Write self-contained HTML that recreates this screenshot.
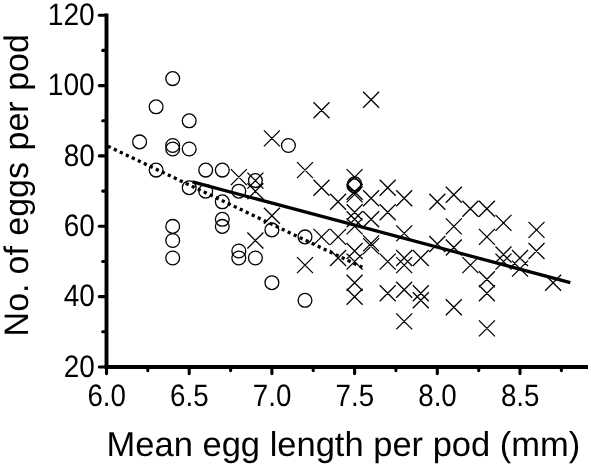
<!DOCTYPE html>
<html><head><meta charset="utf-8"><title>Eggs per pod vs egg length</title>
<style>html,body{margin:0;padding:0;background:#fff}svg{display:block;will-change:transform;opacity:.999}text{text-rendering:geometricPrecision;font-family:"Liberation Sans",Arial,sans-serif;fill:#000}</style></head><body>
<svg width="591" height="467" viewBox="0 0 591 467">
<rect width="591" height="467" fill="#fff"/>
<g stroke="#000" stroke-width="3.9" fill="none" stroke-linecap="butt">
<path d="M106.5 13.4 V367"/>
<path d="M104.55 367 H588"/>
</g>
<g stroke="#000" stroke-width="3.1" fill="none" stroke-linecap="round">
<path d="M99.3 367.0 H106"/>
<path d="M99.3 296.6 H106"/>
<path d="M99.3 226.3 H106"/>
<path d="M99.3 155.9 H106"/>
<path d="M99.3 85.6 H106"/>
<path d="M99.3 15.2 H106"/>
<path d="M102.7 331.8 H106"/>
<path d="M102.7 261.5 H106"/>
<path d="M102.7 191.1 H106"/>
<path d="M102.7 120.7 H106"/>
<path d="M102.7 50.4 H106"/>
<path d="M106.5 367 V373.6"/>
<path d="M189.2 367 V373.6"/>
<path d="M271.9 367 V373.6"/>
<path d="M354.6 367 V373.6"/>
<path d="M437.3 367 V373.6"/>
<path d="M520.0 367 V373.6"/>
<path d="M147.8 367 V370.6"/>
<path d="M230.6 367 V370.6"/>
<path d="M313.2 367 V370.6"/>
<path d="M395.9 367 V370.6"/>
<path d="M478.7 367 V370.6"/>
<path d="M561.4 367 V370.6"/>
</g>
<text transform="translate(94.74 376.7) scale(0.9 1)" font-size="31.0" text-anchor="end">20</text>
<text transform="translate(94.74 306.3) scale(0.9 1)" font-size="31.0" text-anchor="end">40</text>
<text transform="translate(94.74 236.0) scale(0.9 1)" font-size="31.0" text-anchor="end">60</text>
<text transform="translate(94.74 165.6) scale(0.9 1)" font-size="31.0" text-anchor="end">80</text>
<text transform="translate(94.75 95.3) scale(0.909 1)" font-size="31.0" text-anchor="end">100</text>
<text transform="translate(94.75 24.9) scale(0.909 1)" font-size="31.0" text-anchor="end">120</text>
<text transform="translate(106.7 406.3) scale(0.895 1)" font-size="31.0" text-anchor="middle">6.0</text>
<text transform="translate(189.4 406.3) scale(0.895 1)" font-size="31.0" text-anchor="middle">6.5</text>
<text transform="translate(272.1 406.3) scale(0.895 1)" font-size="31.0" text-anchor="middle">7.0</text>
<text transform="translate(354.8 406.3) scale(0.895 1)" font-size="31.0" text-anchor="middle">7.5</text>
<text transform="translate(437.5 406.3) scale(0.895 1)" font-size="31.0" text-anchor="middle">8.0</text>
<text transform="translate(520.2 406.3) scale(0.895 1)" font-size="31.0" text-anchor="middle">8.5</text>
<text x="106.6" y="455.8" font-size="34.5">Mean egg length per pod (mm)</text>
<text transform="translate(28.2 336.4) rotate(-90)" font-size="34">No.</text>
<text transform="translate(28.2 274.4) rotate(-90)" font-size="34">of</text>
<text transform="translate(28.2 235.7) rotate(-90)" font-size="34">eggs</text>
<text transform="translate(28.2 150.5) rotate(-90)" font-size="34">per</text>
<text transform="translate(28.2 90.8) rotate(-90)" font-size="34">pod</text>
<g stroke="#000" stroke-width="1.3" fill="none">
<circle cx="172.7" cy="78.6" r="6.9"/>
<circle cx="156.1" cy="106.8" r="6.9"/>
<circle cx="189.2" cy="120.8" r="6.9"/>
<circle cx="139.6" cy="141.9" r="6.9"/>
<circle cx="172.7" cy="145.5" r="6.9"/>
<circle cx="172.7" cy="149.0" r="6.9"/>
<circle cx="189.2" cy="149.0" r="6.9"/>
<circle cx="156.1" cy="170.1" r="6.9"/>
<circle cx="205.7" cy="170.1" r="6.9"/>
<circle cx="222.3" cy="170.1" r="6.9"/>
<circle cx="189.2" cy="187.7" r="6.9"/>
<circle cx="205.7" cy="191.2" r="6.9"/>
<circle cx="222.3" cy="201.8" r="6.9"/>
<circle cx="222.3" cy="219.3" r="6.9"/>
<circle cx="222.3" cy="226.4" r="6.9"/>
<circle cx="172.7" cy="226.4" r="6.9"/>
<circle cx="172.7" cy="240.5" r="6.9"/>
<circle cx="172.7" cy="258.0" r="6.9"/>
<circle cx="288.4" cy="145.5" r="6.9"/>
<circle cx="255.4" cy="180.6" r="6.9"/>
<circle cx="238.8" cy="191.2" r="6.9"/>
<circle cx="271.9" cy="229.9" r="6.9"/>
<circle cx="305.0" cy="236.9" r="6.9"/>
<circle cx="238.8" cy="251.0" r="6.9"/>
<circle cx="238.8" cy="258.0" r="6.9"/>
<circle cx="255.4" cy="258.0" r="6.9"/>
<circle cx="271.9" cy="282.7" r="6.9"/>
<circle cx="305.0" cy="300.3" r="6.9"/>
<circle cx="354.6" cy="183.8" r="6.9"/>
<circle cx="354.1" cy="185.7" r="6.9"/>
<path d="M313.5 102.3L329.5 118.3M313.5 118.3L329.5 102.3M263.9 130.4L279.9 146.4M263.9 146.4L279.9 130.4M363.1 91.7L379.1 107.7M363.1 107.7L379.1 91.7M230.8 169.1L246.8 185.1M230.8 185.1L246.8 169.1M247.4 172.6L263.4 188.6M247.4 188.6L263.4 172.6M247.4 183.2L263.4 199.2M247.4 199.2L263.4 183.2M297.0 162.1L313.0 178.1M297.0 178.1L313.0 162.1M313.5 179.7L329.5 195.7M313.5 195.7L329.5 179.7M330.1 193.8L346.1 209.8M330.1 209.8L346.1 193.8M263.9 207.8L279.9 223.8M263.9 223.8L279.9 207.8M247.4 232.5L263.4 248.5M247.4 248.5L263.4 232.5M297.0 257.1L313.0 273.1M297.0 273.1L313.0 257.1M330.1 250.0L346.1 266.0M330.1 266.0L346.1 250.0M313.5 228.9L329.5 244.9M313.5 244.9L329.5 228.9M330.1 228.9L346.1 244.9M330.1 244.9L346.1 228.9M346.6 169.1L362.6 185.1M346.6 185.1L362.6 169.1M346.6 183.7L362.6 199.7M346.6 199.7L362.6 183.7M346.6 186.4L362.6 202.4M346.6 202.4L362.6 186.4M363.1 190.2L379.1 206.2M363.1 206.2L379.1 190.2M379.7 179.7L395.7 195.7M379.7 195.7L395.7 179.7M396.2 190.2L412.2 206.2M396.2 206.2L412.2 190.2M346.6 204.3L362.6 220.3M346.6 220.3L362.6 204.3M346.6 211.3L362.6 227.3M346.6 227.3L362.6 211.3M363.1 211.3L379.1 227.3M363.1 227.3L379.1 211.3M379.7 204.3L395.7 220.3M379.7 220.3L395.7 204.3M346.6 218.4L362.6 234.4M346.6 234.4L362.6 218.4M396.2 225.4L412.2 241.4M396.2 241.4L412.2 225.4M363.1 235.4L379.1 251.4M363.1 251.4L379.1 235.4M363.1 238.1L379.1 254.1M363.1 254.1L379.1 238.1M346.6 243.0L362.6 259.0M346.6 259.0L362.6 243.0M346.6 253.6L362.6 269.6M346.6 269.6L362.6 253.6M379.7 253.6L395.7 269.6M379.7 269.6L395.7 253.6M396.2 250.0L412.2 266.0M396.2 266.0L412.2 250.0M396.2 257.1L412.2 273.1M396.2 273.1L412.2 257.1M412.8 250.0L428.8 266.0M412.8 266.0L428.8 250.0M346.6 274.7L362.6 290.7M346.6 290.7L362.6 274.7M346.6 288.7L362.6 304.7M346.6 304.7L362.6 288.7M379.7 285.2L395.7 301.2M379.7 301.2L395.7 285.2M396.2 281.7L412.2 297.7M396.2 297.7L412.2 281.7M396.2 313.4L412.2 329.4M396.2 329.4L412.2 313.4M412.8 285.2L428.8 301.2M412.8 301.2L428.8 285.2M412.8 292.3L428.8 308.3M412.8 308.3L428.8 292.3M429.3 193.8L445.3 209.8M429.3 209.8L445.3 193.8M445.8 186.7L461.8 202.7M445.8 202.7L461.8 186.7M462.4 200.8L478.4 216.8M462.4 216.8L478.4 200.8M478.9 200.8L494.9 216.8M478.9 216.8L494.9 200.8M445.8 218.4L461.8 234.4M445.8 234.4L461.8 218.4M429.3 236.0L445.3 252.0M429.3 252.0L445.3 236.0M445.8 239.5L461.8 255.5M445.8 255.5L461.8 239.5M478.9 228.9L494.9 244.9M478.9 244.9L494.9 228.9M462.4 257.1L478.4 273.1M462.4 273.1L478.4 257.1M478.9 271.2L494.9 287.2M478.9 287.2L494.9 271.2M478.9 285.2L494.9 301.2M478.9 301.2L494.9 285.2M478.9 320.4L494.9 336.4M478.9 336.4L494.9 320.4M445.8 299.3L461.8 315.3M445.8 315.3L461.8 299.3M495.5 214.9L511.5 230.9M495.5 230.9L511.5 214.9M528.5 221.9L544.5 237.9M528.5 237.9L544.5 221.9M528.5 243.0L544.5 259.0M528.5 259.0L544.5 243.0M495.5 246.5L511.5 262.5M495.5 262.5L511.5 246.5M495.5 253.6L511.5 269.6M495.5 269.6L511.5 253.6M512.0 250.0L528.0 266.0M512.0 266.0L528.0 250.0M512.0 260.6L528.0 276.6M512.0 276.6L528.0 260.6M545.1 274.7L561.1 290.7M545.1 290.7L561.1 274.7"/>
</g>
<path d="M107.85 146.2 L362.3 267.3" stroke="#000" stroke-width="3.3" stroke-dasharray="3.2 3.44" fill="none"/>
<path d="M192.6 181.9 L570.3 282.6" stroke="#000" stroke-width="3.2" fill="none"/>
</svg></body></html>
